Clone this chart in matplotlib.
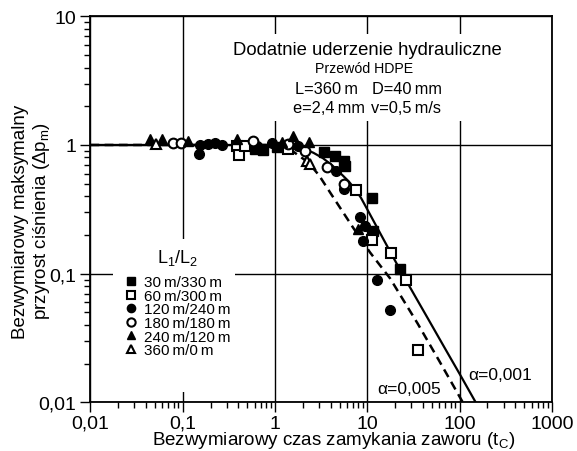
import matplotlib
matplotlib.use("Agg")
import matplotlib.pyplot as plt
from matplotlib.patches import Rectangle

plt.rcParams['font.family'] = ['Liberation Sans', 'DejaVu Sans']
plt.rcParams['mathtext.fontset'] = 'custom'
plt.rcParams['mathtext.rm'] = 'Liberation Sans'
plt.rcParams['mathtext.it'] = 'Liberation Sans'

# measured points, L1/L2 series
x_30_330 = [0.61, 0.74, 1.05, 3.4, 4.5, 5.6, 5.7, 11.2, 11.5, 22.6]
y_30_330 = [0.93, 0.91, 0.965, 0.88, 0.82, 0.75, 0.69, 0.39, 0.215, 0.109]
x_60_300 = [0.39, 0.41, 0.47, 1.38, 7.55, 11.2, 18.0, 26.3, 35.4]
y_60_300 = [0.98, 0.84, 0.98, 0.93, 0.447, 0.183, 0.145, 0.089, 0.0255]
x_120_240 = [0.15, 0.153, 0.188, 0.224, 0.267, 0.63, 0.93, 1.77, 4.57, 5.6, 8.3, 9.4, 9.0, 12.7, 17.6]
y_120_240 = [0.85, 1.0, 1.02, 1.04, 1.0, 0.98, 1.04, 0.98, 0.63, 0.455, 0.276, 0.235, 0.18, 0.089, 0.052]
x_180_180 = [0.0785, 0.096, 0.58, 1.38, 2.11, 3.66, 5.6]
y_180_180 = [1.04, 1.04, 1.07, 1.02, 0.90, 0.675, 0.50]
x_240_120 = [0.0443, 0.0597, 0.114, 0.387, 1.19, 1.57, 2.34, 7.9]
y_240_120 = [1.11, 1.11, 1.07, 1.11, 1.055, 1.17, 1.055, 0.222]
x_360_0 = [0.0514, 2.22, 2.39]
y_360_0 = [1.02, 0.75, 0.71]

# model curves
x_a001 = [0.01, 1.0, 1.5, 2.0, 2.6, 3.3, 4.2, 5.4, 6.3, 7.4, 8.5, 10.0, 15.0, 22.6, 32.8, 45.5, 70.0, 100.0, 149.0]
y_a001 = [1.0, 1.0, 0.98, 0.94, 0.87, 0.79, 0.69, 0.58, 0.52, 0.45, 0.39, 0.315, 0.184, 0.107, 0.067, 0.0445, 0.0259, 0.0166, 0.01]
x_a005 = [0.01, 0.8, 1.2, 1.6, 2.3, 3.0, 4.1, 7.0, 10.7, 17.6, 35.0, 60.0, 108.0]
y_a005 = [1.0, 1.0, 0.96, 0.88, 0.73, 0.58, 0.41, 0.228, 0.146, 0.092, 0.041, 0.021, 0.01]

xticks = [0.01, 0.1, 1, 10, 100, 1000]
xticklabels = ['0,01', '0,1', '1', '10', '100', '1000']
yticks = [0.01, 0.1, 1, 10]
yticklabels = ['0,01', '0,1', '1', '10']

fig = plt.figure(figsize=(5.77, 4.52), dpi=100)
ax = fig.add_axes([90.4 / 577, 1 - 403.3 / 452, 461.6 / 577, 386 / 452])
ax.set_xscale('log')
ax.set_yscale('log')
ax.set_xlim(0.01, 1000)
ax.set_ylim(0.01, 10)
ax.set_axisbelow(True)
ax.grid(True, which='major', color='black', linewidth=1)

# white backgrounds behind the description and the legend
ax.add_patch(Rectangle((0.285, 0.729), 0.628, 0.225, transform=ax.transAxes,
                       facecolor='white', edgecolor='none', zorder=1))
ax.add_patch(Rectangle((0.049, 0.027), 0.264, 0.396, transform=ax.transAxes,
                       facecolor='white', edgecolor='none', zorder=1))

ax.plot(x_a001, y_a001, color='black', linewidth=1.6, zorder=2)
ax.plot(x_a005, y_a005, color='black', linewidth=1.8, dashes=(3.5, 2.2), zorder=2)

ms = 7
kw = dict(linestyle='none', markersize=ms, markeredgecolor='black', zorder=3)
ax.plot(x_30_330, y_30_330, marker='s', color='black', label='30\u2009m/330\u2009m', **kw)
ax.plot(x_60_300, y_60_300, marker='s', markerfacecolor='white', markeredgewidth=1.5,
        label='60\u2009m/300\u2009m', **kw)
ax.plot(x_120_240, y_120_240, marker='o', color='black', label='120\u2009m/240\u2009m', **kw)
ax.plot(x_180_180, y_180_180, marker='o', markerfacecolor='white', markeredgewidth=1.5,
        label='180\u2009m/180\u2009m', **kw)
ax.plot(x_240_120, y_240_120, marker='^', color='black', label='240\u2009m/120\u2009m', **kw)
ax.plot(x_360_0, y_360_0, marker='^', markerfacecolor='white', markeredgewidth=1.5,
        label='360\u2009m/0\u2009m', **kw)

leg = ax.legend(loc='upper left', bbox_to_anchor=(0.049, 0.432), borderaxespad=0,
                title='L$_1$/L$_2$', fontsize=11, title_fontsize=13, frameon=False,
                handlelength=0.8, handletextpad=0.45, labelspacing=-0.03, borderpad=0.75,
                markerscale=0.85)
leg._legend_box.sep = 6  # gap between title and entries
leg.set_zorder(4)

ax.set_xticks(xticks)
ax.set_xticklabels(xticklabels)
ax.set_yticks(yticks)
ax.set_yticklabels(yticklabels)
ax.tick_params(which='major', direction='out', length=7, width=1, labelsize=14, colors='black')
ax.tick_params(which='minor', direction='out', length=4, width=1)
ax.tick_params(axis='x', pad=2)
ax.tick_params(axis='y', pad=3.4)
for s in ax.spines.values():
    s.set_linewidth(1.3)

ax.set_xlabel('Bezwymiarowy czas zamykania zaworu (t$_\\mathrm{C}$)', fontsize=13.5, va='center')
ax.xaxis.set_label_coords(0.527, -0.097)
ax.set_ylabel('Bezwymiarowy maksymalny\nprzyrost ciśnienia (Δp$_\\mathrm{m}$)', fontsize=13.5,
              va='center', linespacing=1.1)
ax.yaxis.set_label_coords(-0.1265, 0.471)

ax.text(0.601, 0.915, 'Dodatnie uderzenie hydrauliczne', transform=ax.transAxes,
        ha='center', va='center', fontsize=13.3, zorder=5)
ax.text(0.593, 0.865, 'Przewód HDPE', transform=ax.transAxes,
        ha='center', va='center', fontsize=10.2, zorder=5)
ax.text(0.443, 0.814, 'L=360\u2009m', transform=ax.transAxes, ha='left', va='center',
        fontsize=11.8, zorder=5)
ax.text(0.609, 0.814, 'D=40\u2009mm', transform=ax.transAxes, ha='left', va='center',
        fontsize=11.8, zorder=5)
ax.text(0.438, 0.765, 'e=2,4\u2009mm', transform=ax.transAxes, ha='left', va='center',
        fontsize=11.8, zorder=5)
ax.text(0.607, 0.765, 'v=0,5\u2009m/s', transform=ax.transAxes, ha='left', va='center',
        fontsize=11.8, zorder=5)

ax.text(0.887, 0.073, 'α=0,001', transform=ax.transAxes, ha='center', va='center', fontsize=12.5)
ax.text(0.691, 0.037, 'α=0,005', transform=ax.transAxes, ha='center', va='center', fontsize=12.5)

fig.savefig('out.png', dpi=100)
